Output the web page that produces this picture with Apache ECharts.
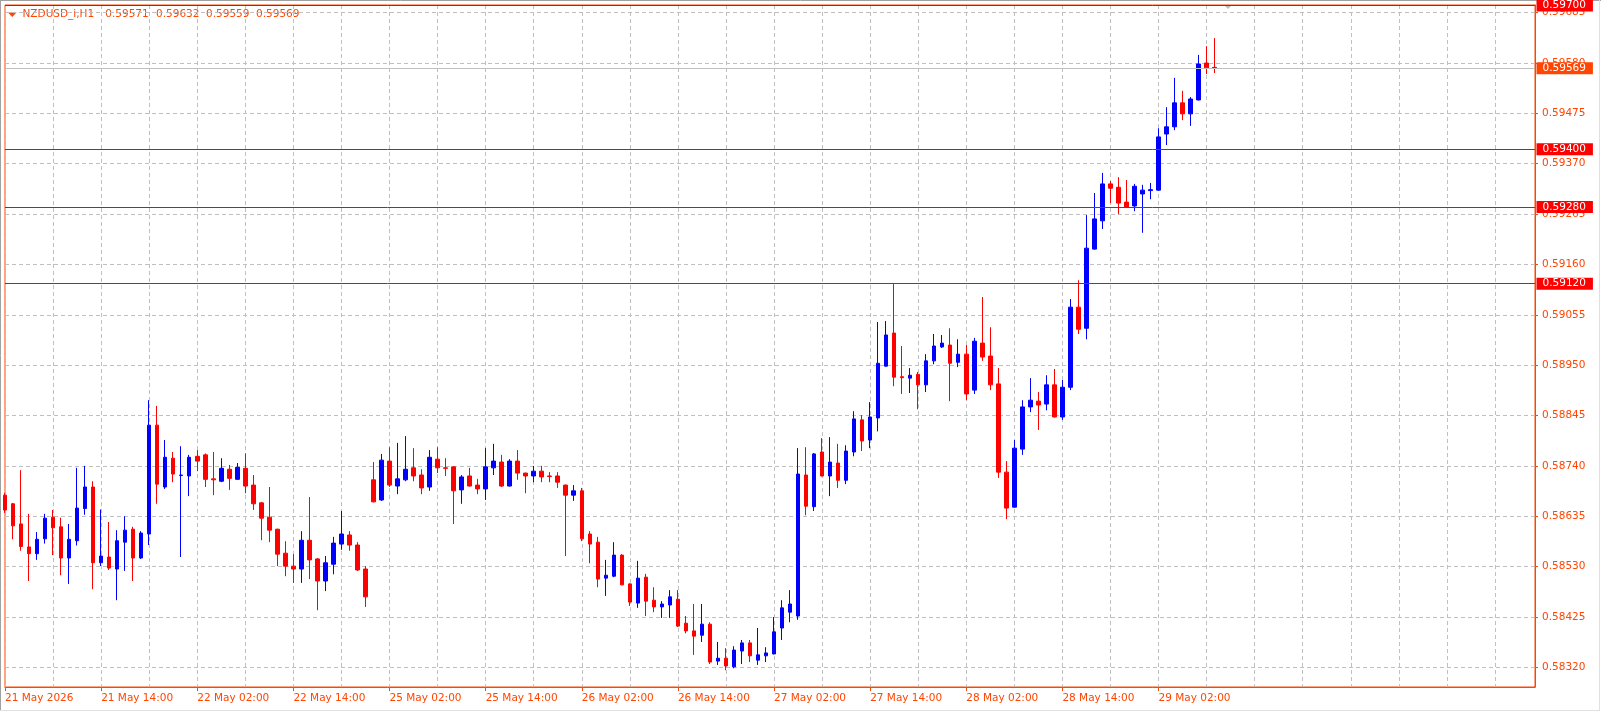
<!DOCTYPE html>
<html><head><meta charset="utf-8">
<script src="https://cdn.jsdelivr.net/npm/echarts@6/dist/echarts.min.js"></script>
<style>html,body{margin:0;padding:0;background:#fff;}#c{width:1601px;height:713px;}</style>
</head><body><div id="c"></div>
<script>
// ---- data (NZDUSD_i, H1) ----
const sessionDays = [['21 May',2,23],['22 May',0,23],['25 May',0,23],['26 May',0,23],['27 May',0,23],['28 May',0,23],['29 May',0,9]];
const opens = [0.58679,0.58661,0.58619,0.58571,0.58557,0.58588,0.58633,0.58613,0.58548,0.58584,0.58651,0.58696,0.58538,0.58550,0.58525,0.58581,0.58608,0.58548,0.58598,0.58825,
0.58696,0.58756,0.58720,0.58719,0.58760,0.58763,0.58713,0.58708,0.58733,0.58712,0.58735,0.58700,0.58663,0.58633,0.58608,0.58558,0.58531,0.58525,0.58585,0.58546,
0.58500,0.58535,0.58577,0.58596,0.58575,0.58525,0.58711,0.58669,0.58750,0.58698,0.58711,0.58736,0.58721,0.58696,0.58754,0.58736,0.58738,0.58690,0.58719,0.58700,
0.58692,0.58736,0.58748,0.58698,0.58750,0.58725,0.58719,0.58729,0.58719,0.58719,0.58700,0.58679,0.58688,0.58598,0.58581,0.58506,0.58510,0.58554,0.58494,0.58454,
0.58508,0.58460,0.58446,0.58450,0.58462,0.58412,0.58396,0.58387,0.58410,0.58333,0.58339,0.58321,0.58354,0.58371,0.58335,0.58344,0.58348,0.58402,0.58435,0.58427,
0.58721,0.58655,0.58769,0.58719,0.58746,0.58710,0.58769,0.58836,0.58794,0.58840,0.58948,0.59017,0.58926,0.58923,0.58931,0.58909,0.58959,0.58988,0.58992,0.58956,
0.58973,0.58898,0.58996,0.58969,0.58911,0.58727,0.58654,0.58775,0.58863,0.58875,0.58869,0.58909,0.58842,0.58904,0.59071,0.59027,0.59192,0.59251,0.59328,0.59321,
0.59290,0.59282,0.59307,0.59314,0.59315,0.59432,0.59447,0.59497,0.59474,0.59503,0.59580,0.59571];
const highs = [0.58684,0.58663,0.58731,0.58640,0.58602,0.58640,0.58648,0.58632,0.58619,0.58736,0.58740,0.58708,0.58649,0.58623,0.58606,0.58635,0.58613,0.58604,0.58877,0.58865,
0.58794,0.58769,0.58781,0.58763,0.58773,0.58766,0.58769,0.58756,0.58742,0.58746,0.58766,0.58721,0.58665,0.58696,0.58609,0.58583,0.58556,0.58604,0.58675,0.58548,
0.58552,0.58592,0.58646,0.58604,0.58581,0.58531,0.58748,0.58765,0.58779,0.58788,0.58802,0.58777,0.58733,0.58773,0.58779,0.58756,0.58739,0.58721,0.58736,0.58713,
0.58777,0.58786,0.58763,0.58754,0.58773,0.58726,0.58740,0.58740,0.58727,0.58727,0.58701,0.58700,0.58694,0.58604,0.58592,0.58544,0.58581,0.58556,0.58495,0.58542,
0.58515,0.58487,0.58458,0.58481,0.58481,0.58427,0.58452,0.58452,0.58414,0.58373,0.58360,0.58364,0.58377,0.58377,0.58402,0.58362,0.58425,0.58460,0.58481,0.58777,
0.58779,0.58767,0.58798,0.58800,0.58786,0.58783,0.58854,0.58846,0.58873,0.59040,0.59042,0.59119,0.58990,0.58944,0.58936,0.58973,0.59015,0.59013,0.59027,0.59004,
0.58992,0.59007,0.59092,0.59029,0.58944,0.58750,0.58794,0.58877,0.58923,0.58894,0.58929,0.58942,0.58919,0.59088,0.59127,0.59263,0.59309,0.59351,0.59334,0.59342,
0.59336,0.59328,0.59326,0.59330,0.59444,0.59488,0.59549,0.59522,0.59509,0.59597,0.59615,0.59632];
const lows = [0.58642,0.58587,0.58563,0.58500,0.58544,0.58578,0.58554,0.58512,0.58494,0.58574,0.58638,0.58483,0.58531,0.58523,0.58460,0.58521,0.58500,0.58546,0.58575,0.58661,
0.58692,0.58706,0.58550,0.58677,0.58729,0.58696,0.58679,0.58706,0.58690,0.58711,0.58683,0.58648,0.58585,0.58581,0.58531,0.58510,0.58496,0.58496,0.58504,0.58439,
0.58479,0.58514,0.58565,0.58563,0.58521,0.58446,0.58664,0.58667,0.58696,0.58681,0.58708,0.58708,0.58681,0.58688,0.58725,0.58719,0.58619,0.58661,0.58697,0.58681,
0.58669,0.58721,0.58696,0.58697,0.58711,0.58683,0.58706,0.58706,0.58706,0.58694,0.58552,0.58667,0.58583,0.58537,0.58487,0.58469,0.58508,0.58491,0.58448,0.58444,
0.58427,0.58435,0.58423,0.58423,0.58404,0.58391,0.58346,0.58373,0.58327,0.58325,0.58314,0.58318,0.58327,0.58331,0.58325,0.58331,0.58347,0.58377,0.58414,0.58419,
0.58637,0.58646,0.58718,0.58677,0.58694,0.58702,0.58760,0.58771,0.58777,0.58812,0.58947,0.58906,0.58890,0.58892,0.58858,0.58894,0.58952,0.58986,0.58875,0.58946,
0.58877,0.58890,0.58959,0.58898,0.58715,0.58629,0.58653,0.58763,0.58852,0.58815,0.58856,0.58841,0.58836,0.58898,0.59015,0.59004,0.59191,0.59234,0.59288,0.59265,
0.59279,0.59271,0.59226,0.59296,0.59314,0.59409,0.59440,0.59461,0.59449,0.59502,0.59557,0.59559];
const closes = [0.58648,0.58615,0.58572,0.58557,0.58587,0.58631,0.58611,0.58548,0.58587,0.58652,0.58696,0.58538,0.58552,0.58527,0.58584,0.58606,0.58548,0.58600,0.58825,0.58702,
0.58758,0.58723,0.58721,0.58758,0.58750,0.58712,0.58711,0.58735,0.58714,0.58737,0.58698,0.58661,0.58631,0.58606,0.58556,0.58531,0.58525,0.58585,0.58544,0.58500,
0.58538,0.58579,0.58598,0.58575,0.58523,0.58467,0.58665,0.58752,0.58700,0.58713,0.58733,0.58719,0.58694,0.58758,0.58736,0.58735,0.58688,0.58717,0.58698,0.58692,
0.58738,0.58750,0.58698,0.58750,0.58725,0.58719,0.58729,0.58717,0.58718,0.58706,0.58679,0.58688,0.58588,0.58577,0.58504,0.58512,0.58554,0.58492,0.58456,0.58506,
0.58458,0.58446,0.58452,0.58467,0.58406,0.58396,0.58385,0.58410,0.58331,0.58339,0.58323,0.58356,0.58371,0.58344,0.58346,0.58350,0.58394,0.58444,0.58452,0.58723,
0.58656,0.58765,0.58719,0.58748,0.58710,0.58771,0.58838,0.58792,0.58842,0.58954,0.59013,0.58925,0.58924,0.58929,0.58909,0.58959,0.58990,0.58996,0.58954,0.58973,
0.58890,0.59000,0.58967,0.58909,0.58727,0.58652,0.58777,0.58863,0.58877,0.58867,0.58909,0.58842,0.58904,0.59071,0.59025,0.59194,0.59255,0.59328,0.59319,0.59288,
0.59280,0.59323,0.59315,0.59316,0.59426,0.59447,0.59497,0.59474,0.59505,0.59578,0.59570,0.59569];
const yTicks = [0.58320,0.58425,0.58530,0.58635,0.58740,0.58845,0.58950,0.59055,0.59160,0.59265,0.59370,0.59475,0.59580,0.59685];
const levelLines = [0.59700,0.59400,0.59280,0.59120];
const currentPrice = 0.59569;
const headerName = 'NZDUSD_i,H1';
const headerValues = ['0.59571','0.59632','0.59559','0.59569'];
const firstLabel = '21 May 2026';
const emptySlots = 40;

// ---- build ----
const pad2 = n => (n < 10 ? '0' : '') + n;
const times = [];
sessionDays.forEach(([d, h0, h1]) => { for (let h = h0; h <= h1; h++) times.push(d + ' ' + pad2(h) + ':00'); });
const nBars = times.length;
const categories = times.slice();
for (let i = 0; i < emptySlots; i++) categories.push('slot' + i);
const ohlc = opens.map((o, i) => [o, closes[i], lows[i], highs[i]]);

const FONT = 'DejaVu Sans';
const FG = '#FF4500';
const chart = echarts.init(document.getElementById('c'), null, {renderer: 'canvas'});

const mlData = levelLines.map(v => ({
  yAxis: v,
  lineStyle: {color: '#FF0000', width: 1, type: 'solid'},
  label: {backgroundColor: '#FF0000'}
}));
mlData.push({yAxis: currentPrice, lineStyle: {color: '#C0C0C0', width: 1, type: 'solid'}, label: {backgroundColor: '#FF4500'}});

const graphics = [
  {type: 'line', shape: {x1: 0, y1: 0.5, x2: 1601, y2: 0.5}, style: {stroke: '#a0a0a0', lineWidth: 1}, silent: true},
  {type: 'line', shape: {x1: 0.5, y1: 0, x2: 0.5, y2: 711}, style: {stroke: '#a0a0a0', lineWidth: 1}, silent: true},
  {type: 'line', shape: {x1: 0, y1: 710.5, x2: 1600, y2: 710.5}, style: {stroke: '#e0e0e0', lineWidth: 1}, silent: true},
  {type: 'line', shape: {x1: 1599.5, y1: 0, x2: 1599.5, y2: 711}, style: {stroke: '#e0e0e0', lineWidth: 1}, silent: true},
  {type: 'polygon', shape: {points: [[8, 12.5], [16.5, 12.5], [12.25, 17]]}, style: {fill: FG}, silent: true},
  {type: 'polygon', shape: {points: [[1224, 5], [1232, 5], [1228, 9]]}, style: {fill: '#c0c0c0'}, silent: true},
  {type: 'text', x: 22.5, y: 14.5, style: {text: headerName, fill: FG, font: '10.5px "' + FONT + '"', verticalAlign: 'middle', align: 'left'}, silent: true}
];
const headerX = [105.3, 156, 206, 256];
headerValues.forEach((t, i) => graphics.push({type: 'text', x: headerX[i], y: 14.5, style: {text: t, fill: FG, font: '10.5px "' + FONT + '"', verticalAlign: 'middle', align: 'left'}, silent: true}));

chart.setOption({
  animation: false,
  backgroundColor: '#ffffff',
  grid: {left: 5, right: 66, top: 5, bottom: 26, show: true, borderColor: FG, borderWidth: 1, backgroundColor: '#ffffff'},
  xAxis: {
    type: 'category',
    data: categories,
    boundaryGap: false,
    axisLine: {show: true, lineStyle: {color: FG, width: 1}},
    axisTick: {show: true, length: 4, inside: false, lineStyle: {color: FG}, interval: (i) => i % 12 === 0 && i < nBars},
    axisLabel: {
      show: true, color: FG, fontFamily: FONT, fontSize: 10.5, align: 'left', margin: 6,
      interval: (i) => i % 12 === 0 && i < nBars,
      formatter: (v, i) => (i === 0 ? firstLabel : v)
    },
    splitLine: {show: true, interval: (i) => i % 6 === 0, lineStyle: {color: '#C0C0C0', type: [4, 3], width: 1}}
  },
  yAxis: {
    type: 'value',
    position: 'right',
    min: 0.58279,
    max: 0.59701,
    axisLine: {show: true, lineStyle: {color: FG, width: 1}},
    axisTick: {show: true, length: 3, inside: false, lineStyle: {color: FG}, customValues: yTicks},
    axisLabel: {show: true, color: FG, fontFamily: FONT, fontSize: 10.5, margin: 7, customValues: yTicks, formatter: v => v.toFixed(5)},
    splitLine: {show: true, lineStyle: {color: '#C0C0C0', type: [4, 3], width: 1}}
  },
  graphic: graphics,
  series: [{
    type: 'candlestick',
    data: ohlc,
    barWidth: 4,
    clip: true,
    itemStyle: {color: '#0000FF', color0: '#FF0000', borderColor: '#0000FF', borderColor0: '#FF0000', borderWidth: 1},
    markLine: {
      silent: true,
      precision: 5,
      symbol: ['none', 'none'],
      animation: false,
      label: {show: true, position: 'end', distance: 1.5, color: '#ffffff', fontFamily: FONT, fontSize: 10.5,
        padding: [1, 7, 0, 6], lineHeight: 11, formatter: p => Number(p.value).toFixed(5)},
      data: mlData
    }
  }]
});
</script></body></html>
